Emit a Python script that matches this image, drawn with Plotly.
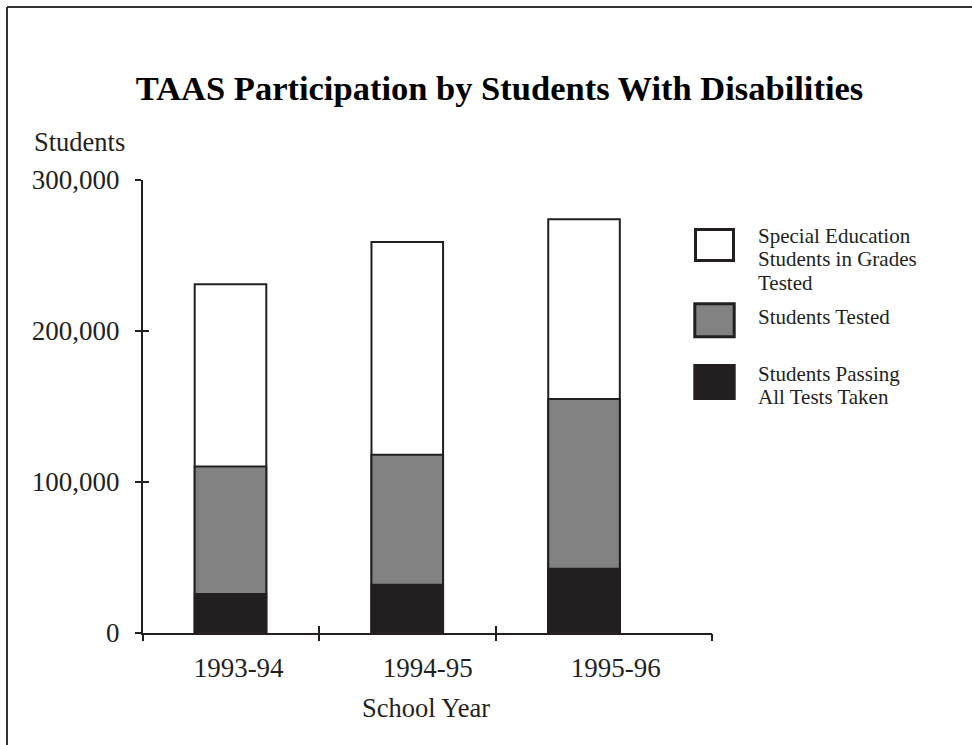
import plotly.graph_objects as go

# ---------------- data ----------------
years = ["1993-94", "1994-95", "1995-96"]
special_ed_students = [231000, 259000, 274000]
students_tested = [110300, 118000, 155000]
students_passing = [26500, 32600, 43200]
series_names = [
    "Special Education Students in Grades Tested",
    "Students Tested",
    "Students Passing All Tests Taken",
]
legend_lines = [
    ["Special Education", "Students in Grades", "Tested"],
    ["Students Tested"],
    ["Students Passing", "All Tests Taken"],
]
y_tick_values = [0, 100000, 200000, 300000]

# ---------------- layout constants ----------------
W, H = 972, 745
L, R, T, B = 143, 260, 180, 112
PW = W - L - R
PH = H - T - B
INK = "#231f20"
GRAY = "#828282"
FONT = "Liberation Serif, Times New Roman, serif"
X0, X1 = -0.495, 2.724
LABEL_SHIFT = [0.046, 0.116, 0.179]   # tick labels sit a bit right of bar centres
EPS = 0.002


def px(x):
    return (x - L) / PW


def py(y):
    return (H - B - y) / PH


def mid_from_baseline(baseline, size):
    return py(baseline - 0.3375 * size)


xpos = list(range(len(years)))
fig = go.Figure()
fig.add_bar(x=xpos, y=special_ed_students, name=series_names[0], width=0.405,
            marker=dict(color="white", line=dict(color=INK, width=2)))
fig.add_bar(x=xpos, y=students_tested, name=series_names[1], width=0.405,
            marker=dict(color=GRAY, line=dict(color=INK, width=2)))
fig.add_bar(x=xpos, y=students_passing, name=series_names[2], width=0.415,
            marker=dict(color=INK, line=dict(color=INK, width=0)))

# empty helper traces so the overlaid tick-only axes get drawn (crossing ticks)
fig.add_scatter(x=[], y=[], xaxis="x2", yaxis="y2", mode="markers",
                showlegend=False, hoverinfo="skip")
fig.add_scatter(x=[], y=[], xaxis="x3", yaxis="y2", mode="markers",
                showlegend=False, hoverinfo="skip")

bounds = [X0 + EPS] + [i + 0.5 for i in range(len(years) - 1)] + [X1 - EPS]
tick_font = dict(family=FONT, size=27, color=INK)

common_x = dict(range=[X0, X1], showgrid=False, zeroline=False, fixedrange=True)
common_y = dict(range=[0, 300000], showgrid=False, zeroline=False, fixedrange=True)

fig.update_layout(
    width=W, height=H,
    margin=dict(l=L, r=R, t=T, b=B, autoexpand=False),
    paper_bgcolor="white", plot_bgcolor="white",
    barmode="overlay", showlegend=False,
    title=dict(text="<b>TAAS Participation by Students With Disabilities</b>",
               x=499.5 / W, xref="container", xanchor="center",
               y=1 - 88 / H, yref="container", yanchor="middle",
               font=dict(family=FONT, size=34.5, color="black")),
    xaxis=dict(**common_x, tickvals=[i + s for i, s in zip(xpos, LABEL_SHIFT)],
               ticktext=years, ticks="", showline=True, linecolor=INK, linewidth=2,
               tickfont=tick_font, ticklabelstandoff=10),
    xaxis2=dict(**common_x, overlaying="x", anchor="y", side="bottom",
                tickvals=bounds, ticks="outside", ticklen=7, tickwidth=2,
                tickcolor=INK, showticklabels=False, showline=False),
    xaxis3=dict(**common_x, overlaying="x", anchor="y", side="bottom",
                tickvals=bounds, ticks="inside", ticklen=7, tickwidth=2,
                tickcolor=INK, showticklabels=False, showline=False),
    yaxis=dict(**common_y, tickvals=y_tick_values, tickformat=",",
               ticks="outside", ticklen=6, tickwidth=2, tickcolor=INK,
               showline=True, linecolor=INK, linewidth=2,
               tickfont=tick_font, ticklabelstandoff=10),
    yaxis2=dict(**common_y, overlaying="y", anchor="x", side="left",
                tickvals=y_tick_values, ticks="inside", ticklen=6, tickwidth=2,
                tickcolor=INK, showticklabels=False, showline=False),
)

shapes = []
# outer frame (top and left edges)
shapes.append(dict(type="line", xref="paper", yref="paper", x0=px(7), x1=px(W + 5),
                   y0=py(7), y1=py(7), line=dict(color="#333333", width=2)))
shapes.append(dict(type="line", xref="paper", yref="paper", x0=px(7), x1=px(7),
                   y0=py(7), y1=py(H + 5), line=dict(color="#333333", width=2)))

# legend swatches
swatches = [
    dict(fill="white", lw=3, x0=695.5, x1=733.5, y0=229.5, y1=260.5),
    dict(fill=GRAY, lw=3, x0=694.8, x1=734.2, y0=303.8, y1=336.8),
    dict(fill=INK, lw=0, x0=693.3, x1=735.7, y0=364, y1=400),
]
for s in swatches:
    shapes.append(dict(type="rect", xref="paper", yref="paper",
                       x0=px(s["x0"]), x1=px(s["x1"]), y0=py(s["y1"]), y1=py(s["y0"]),
                       fillcolor=s["fill"], line=dict(color=INK, width=s["lw"])))
fig.update_layout(shapes=shapes)

annotations = []
LEG_SIZE = 21
leg_baselines = [[242.9, 266.4, 289.9], [324.3], [380.9, 404.4]]
for lines, bls in zip(legend_lines, leg_baselines):
    for txt, bl in zip(lines, bls):
        annotations.append(dict(text=txt, xref="paper", yref="paper", x=px(757),
                                xanchor="left", y=mid_from_baseline(bl, LEG_SIZE),
                                yanchor="middle", showarrow=False, borderpad=0,
                                font=dict(family=FONT, size=LEG_SIZE, color=INK)))
annotations.append(dict(text="Students", xref="paper", yref="paper", x=px(32),
                        xanchor="left", y=mid_from_baseline(151, 26.5), yanchor="middle",
                        showarrow=False, font=dict(family=FONT, size=26.5, color=INK)))
annotations.append(dict(text="School Year", xref="paper", yref="paper", x=px(425.8),
                        xanchor="center", y=mid_from_baseline(716.7, 26.5), yanchor="middle",
                        showarrow=False, font=dict(family=FONT, size=26.5, color=INK)))
fig.update_layout(annotations=annotations)

fig.write_html("out.html")
